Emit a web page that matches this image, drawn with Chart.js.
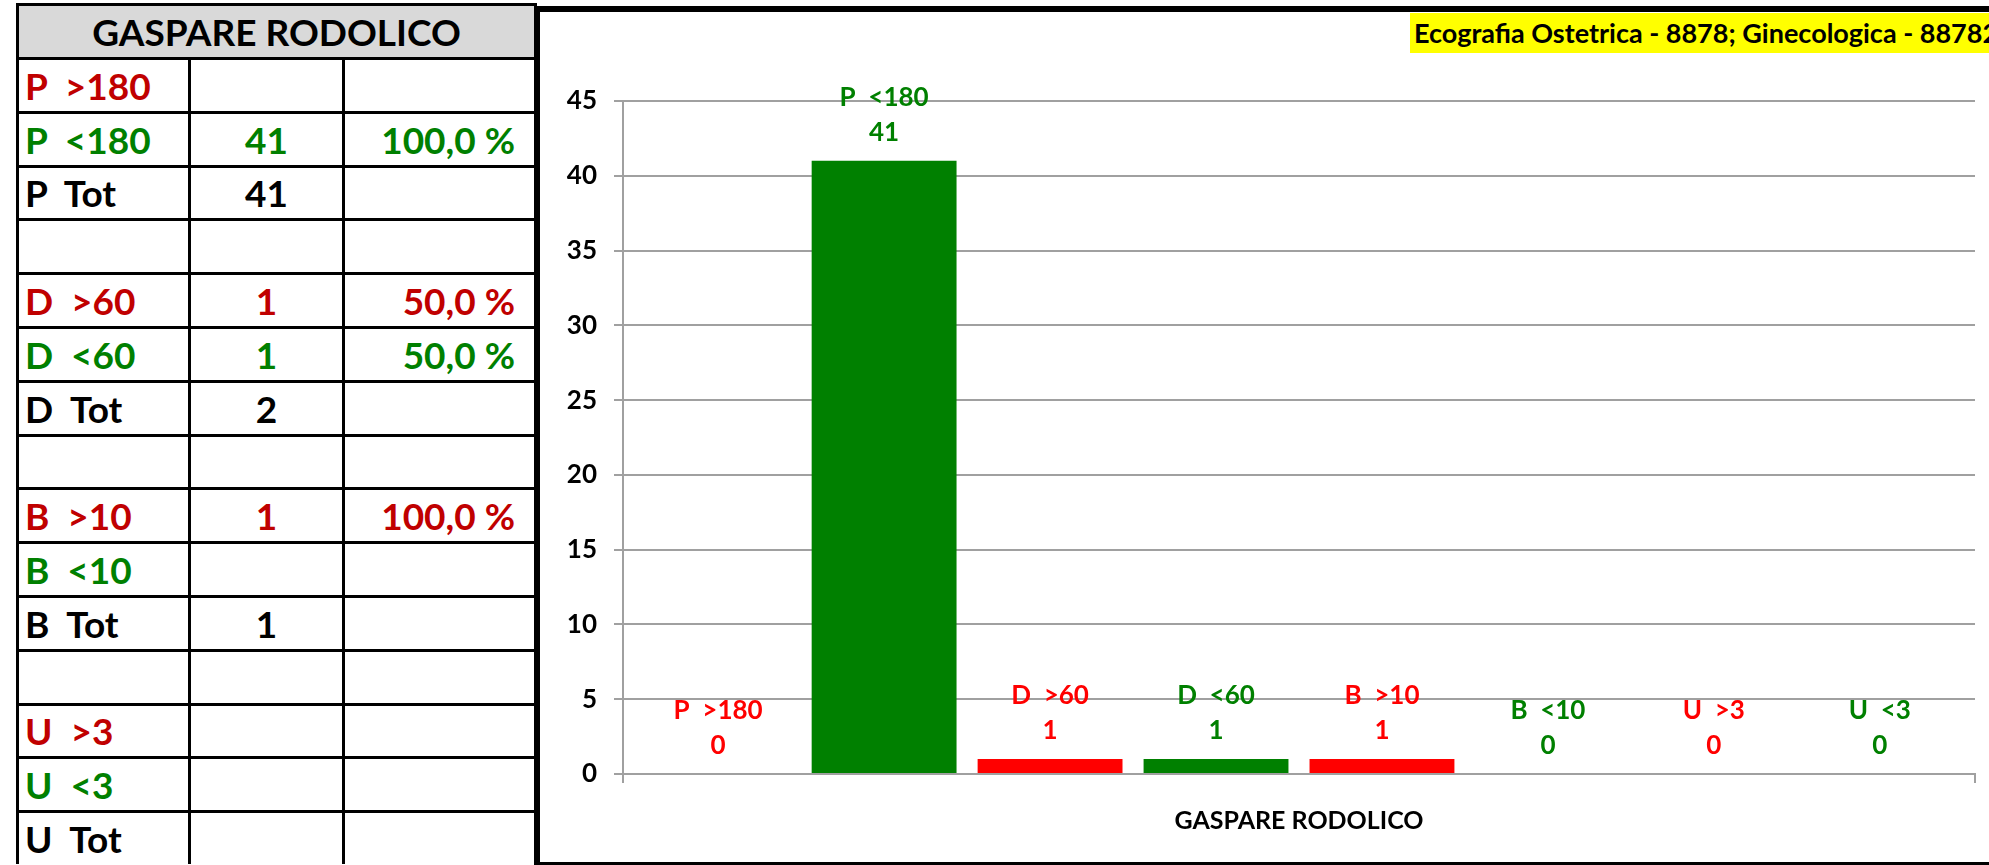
<!DOCTYPE html>
<html>
<head>
<meta charset="utf-8">
<title>GASPARE RODOLICO</title>
<script src="https://cdn.jsdelivr.net/npm/chart.js@4/dist/chart.umd.min.js"></script>
<style>
  html, body { margin: 0; padding: 0; background: #fff; }
  body { position: relative; width: 1989px; height: 865px; overflow: hidden; font-family: Lato, "Open Sans", sans-serif; }
  #summary {
    position: absolute; left: 16px; top: 3px;
    display: grid; background: #000; gap: 3px; padding: 3px 3px 0 3px;
    grid-template-columns: 169px 151px 189px;
    grid-template-rows: 51px repeat(15, 50.8px);
  }
  #summary div {
    background: #fff; display: flex; align-items: center;
    font-weight: 700; font-size: 37px; white-space: pre; overflow: hidden;
  }
  #summary .head { grid-column: 1 / span 3; background: #D9D9D9; justify-content: center; color: #000; }
  #summary .lbl { padding-left: 6px; }
  #summary .cnt { justify-content: center; }
  #summary .pct { justify-content: flex-end; padding-right: 19px; }
  #frame {
    position: absolute; left: 534px; top: 6px; width: 1449px; height: 850px;
    border-left: 6px solid #000; border-top: 6px solid #000; border-bottom: 3px solid #000;
  }
  #frame canvas { position: absolute; left: 0; top: 0; }
  #badge {
    position: absolute; left: 1410px; top: 13px; height: 40px; line-height: 40px;
    padding-left: 4px; padding-right: 20px; background: #FFFF00; color: #000;
    font-weight: 700; font-size: 27px; white-space: nowrap; z-index: 2;
  }
</style>
</head>
<body>
<div id="summary"></div>
<div id="frame"><canvas id="chart" width="1449" height="850"></canvas></div>
<div id="badge">Ecografia Ostetrica - 8878; Ginecologica - 88782</div>
<script>
// Operator and category
const operatorName = 'GASPARE RODOLICO';
const categories = ['GASPARE RODOLICO'];

// Series: groups P, D, B, U split by threshold
const seriesNames  = ['P  >180', 'P  <180', 'D  >60', 'D  <60', 'B  >10', 'B  <10', 'U  >3', 'U  <3'];
const seriesValues = [0, 41, 1, 1, 1, 0, 0, 0];
const seriesKinds  = ['over', 'under', 'over', 'under', 'over', 'under', 'over', 'under'];

// Vertical axis
const yMin = 0;
const yMax = 45;
const yStep = 5;

// Colours
const barColors   = { over: '#FF0000', under: '#008000' };
const labelColors = { over: '#FF0000', under: '#008000' };
const tableColors = { over: '#C00000', under: '#008000', total: '#000000' };

const FONT = 'Lato, "Open Sans", sans-serif';

// ---- summary table ----
function pct(v, tot) {
  return (v / tot * 100).toFixed(1).replace('.', ',') + ' %';
}
(function buildTable() {
  const root = document.getElementById('summary');
  const add = (cls, text, color) => {
    const d = document.createElement('div');
    d.className = cls;
    d.textContent = text;
    if (color) d.style.color = color;
    root.appendChild(d);
  };
  add('head', operatorName);
  for (let g = 0; g < seriesNames.length; g += 2) {
    const a = seriesValues[g], b = seriesValues[g + 1];
    const tot = a + b;
    const prefix = seriesNames[g].split(' ')[0];
    [g, g + 1].forEach(i => {
      const v = seriesValues[i];
      const col = tableColors[seriesKinds[i]];
      add('lbl', seriesNames[i], col);
      add('cnt', v > 0 ? String(v) : '', col);
      add('pct', v > 0 ? pct(v, tot) : '', col);
    });
    add('lbl', prefix + '  Tot', tableColors.total);
    add('cnt', tot > 0 ? String(tot) : '', tableColors.total);
    add('pct', '', tableColors.total);
    if (g + 2 < seriesNames.length) { add('lbl', ''); add('cnt', ''); add('pct', ''); }
  }
})();

// ---- bar chart ----
const valueLabels = {
  id: 'valueLabels',
  afterDatasetsDraw(chart) {
    const ctx = chart.ctx;
    ctx.save();
    ctx.font = '700 26px ' + FONT;
    ctx.textAlign = 'center';
    ctx.textBaseline = 'middle';
    chart.data.datasets.forEach((ds, i) => {
      const el = chart.getDatasetMeta(i).data[0];
      if (!el) return;
      ctx.fillStyle = labelColors[seriesKinds[i]];
      ctx.fillText(ds.label, el.x, el.y - 63);
      ctx.fillText(String(ds.data[0]), el.x, el.y - 28);
    });
    ctx.restore();
  }
};

const gridGray = '#A0A0A0';

new Chart(document.getElementById('chart'), {
  type: 'bar',
  data: {
    labels: categories,
    datasets: seriesNames.map((name, i) => ({
      label: name,
      data: [seriesValues[i]],
      backgroundColor: barColors[seriesKinds[i]],
      borderWidth: 0,
      categoryPercentage: 0.982,
      barPercentage: 0.873
    }))
  },
  options: {
    responsive: false,
    animation: false,
    layout: { padding: { top: 89, right: 14, left: 0, bottom: 0 } },
    plugins: {
      legend: { display: false },
      tooltip: { enabled: false },
      title: { display: false }
    },
    scales: {
      x: {
        offset: true,
        grid: { display: true, offset: true, drawOnChartArea: false, drawTicks: true, tickLength: 9, color: gridGray, lineWidth: 2 },
        border: { display: true, color: gridGray, width: 2 },
        ticks: { color: '#000', padding: 23, font: { family: FONT, size: 25, weight: '700' } },
        afterFit(scale) { scale.height = 88; }
      },
      y: {
        min: yMin,
        max: yMax,
        grid: { color: gridGray, lineWidth: 2, tickLength: 9, drawTicks: true },
        border: { display: true, color: gridGray, width: 2 },
        ticks: { stepSize: yStep, color: '#000', padding: 17, font: { family: FONT, size: 26, weight: '700' } },
        afterFit(scale) { scale.width = 83; }
      }
    }
  },
  plugins: [valueLabels]
});
</script>
</body>
</html>
